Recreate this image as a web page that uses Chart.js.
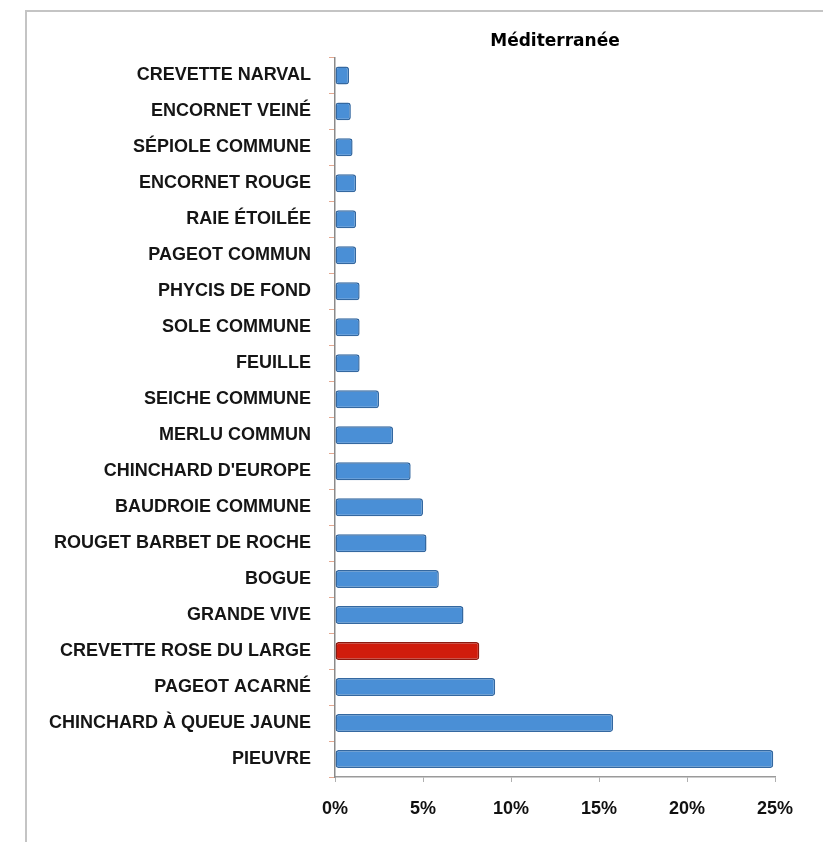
<!DOCTYPE html>
<html lang="fr">
<head>
<meta charset="utf-8">
<title>Méditerranée</title>
<script src="https://cdn.jsdelivr.net/npm/chart.js@4/dist/chart.umd.min.js"></script>
<style>
  html, body { margin: 0; padding: 0; background: #fff; }
  #wrap { position: relative; width: 823px; height: 842px; overflow: hidden; }
  #frame {
    position: absolute; left: 25px; top: 10px; right: -4px; bottom: -4px;
    border-top: 2px solid #c4c4c4; border-left: 2px solid #c4c4c4;
  }
  canvas { position: absolute; left: 0; top: 0; }
</style>
</head>
<body>
<div id="wrap">
  <div id="frame"></div>
  <canvas id="chart" width="823" height="842"></canvas>
</div>
<script>
// species, listed top to bottom
const species = [
  'CREVETTE NARVAL', 'ENCORNET VEINÉ', 'SÉPIOLE COMMUNE', 'ENCORNET ROUGE',
  'RAIE ÉTOILÉE', 'PAGEOT COMMUN', 'PHYCIS DE FOND', 'SOLE COMMUNE', 'FEUILLE',
  'SEICHE COMMUNE', 'MERLU COMMUN', "CHINCHARD D'EUROPE", 'BAUDROIE COMMUNE',
  'ROUGET BARBET DE ROCHE', 'BOGUE', 'GRANDE VIVE', 'CREVETTE ROSE DU LARGE',
  'PAGEOT ACARNÉ', 'CHINCHARD À QUEUE JAUNE', 'PIEUVRE'
];

// share of catches (%)
const shares = [
  0.8, 0.9, 1.0, 1.2,
  1.2, 1.2, 1.4, 1.4, 1.4,
  2.5, 3.3, 4.3, 5.0,
  5.2, 5.9, 7.3, 8.2,
  9.1, 15.8, 24.9
];

const highlighted = 'CREVETTE ROSE DU LARGE';
const xTicks = [0, 5, 10, 15, 20, 25];

const fill = species.map(s => s === highlighted ? '#d01c0c' : '#4a8fd6');
const edge = species.map(s => s === highlighted ? '#8c1a10' : '#3468a0');

const labelFont = { family: 'Liberation Sans', weight: 'bold', size: 18 };

const ctx = document.getElementById('chart').getContext('2d');
new Chart(ctx, {
  type: 'bar',
  data: {
    labels: species,
    datasets: [{
      data: shares,
      backgroundColor: fill,
      borderColor: edge,
      borderWidth: 1.5,
      borderRadius: 3,
      borderSkipped: false,
      barPercentage: 0.5,
      categoryPercentage: 1
    }]
  },
  options: {
    indexAxis: 'y',
    responsive: false,
    animation: false,
    layout: { padding: { left: 20, right: 48, top: 31, bottom: 24 } },
    plugins: {
      legend: { display: false },
      tooltip: { enabled: false },
      title: {
        display: true,
        text: 'Méditerranée',
        fullSize: false,
        color: '#000',
        font: { family: 'DejaVu Sans', weight: 'bold', size: 17 },
        padding: { top: 0, bottom: 6 }
      }
    },
    scales: {
      x: {
        min: 0,
        max: 25,
        afterBuildTicks: scale => { scale.ticks = xTicks.map(v => ({ value: v })); },
        afterFit: scale => { scale.height = 41; },
        ticks: {
          callback: v => v + '%',
          color: '#111',
          padding: 16,
          maxRotation: 0,
          font: labelFont
        },
        grid: { drawOnChartArea: false, tickLength: 5, color: '#b0b0b0' },
        border: { color: '#9a9a9a', width: 1.5 }
      },
      y: {
        afterFit: scale => { scale.width = 315; },
        ticks: {
          color: '#151515',
          padding: 18,
          font: labelFont
        },
        grid: { drawOnChartArea: false, offset: true, tickLength: 6, color: '#e4a890' },
        border: { color: '#8a8a8a', width: 1.5 }
      }
    }
  }
});
</script>
</body>
</html>
